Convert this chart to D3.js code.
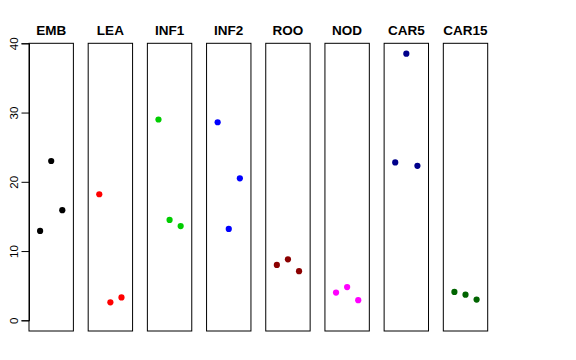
<!DOCTYPE html>
<html><head><meta charset="utf-8">
<script src="https://cdn.jsdelivr.net/npm/d3@7"></script>
<style>body{margin:0;background:#fff}svg{display:block}</style>
</head><body>
<svg id="c" width="576" height="360"></svg>
<script>
const categories = ["EMB","LEA","INF1","INF2","ROO","NOD","CAR5","CAR15"];
const colors = ["#000000","#FF0000","#00CD00","#0000FF","#8B0000","#FF00FF","#00008B","#006400"];
const rep1 = [12.9, 18.2, 29.0, 28.6, 8.0, 4.0, 22.8, 4.1];
const rep2 = [23.0, 2.6, 14.5, 13.2, 8.8, 4.8, 38.5, 3.7];
const rep3 = [15.9, 3.3, 13.6, 20.5, 7.1, 2.9, 22.3, 3.0];
const yTicks = [0, 10, 20, 30, 40];

const svg = d3.select("#c");
const y = d3.scaleLinear().domain([0, 40]).range([320.3, 43.3]);
const panelX = d3.scaleBand().domain(categories).range([29, 487.7]).paddingInner(0.25).paddingOuter(0);
const pw = panelX.bandwidth();
const jit = d3.scalePoint().domain([0,1,2]).range([0.25, 0.75]);
const yBottom = 331;
const yTop = 43.3;

categories.forEach((c, i) => {
  const g = svg.append("g").attr("transform", `translate(${panelX(c)},0)`);
  g.append("rect").attr("x", 0).attr("y", yTop).attr("width", pw).attr("height", yBottom - yTop)
    .attr("fill", "none").attr("stroke", "#000").attr("stroke-width", 1);
  g.append("text").attr("x", pw / 2).attr("y", 34.5).attr("text-anchor", "middle")
    .attr("font-family", "Liberation Sans, Arial, sans-serif").attr("font-weight", "bold")
    .attr("font-size", "13.5px").text(c);
  const vals = [rep1[i], rep2[i], rep3[i]];
  g.selectAll("circle").data(vals).join("circle")
    .attr("cx", (d, k) => jit(k) * pw).attr("cy", d => y(d)).attr("r", 3.1)
    .attr("fill", colors[i]);
});

const ax = svg.append("g").attr("transform", "translate(29,0)")
  .call(d3.axisLeft(y).tickValues(yTicks).tickSize(7.5).tickPadding(0).tickFormat(d3.format("d")));
ax.select(".domain").attr("stroke", "#000");
ax.selectAll(".tick line").attr("stroke", "#000");
ax.selectAll(".tick text").remove();
ax.selectAll(".tick").append("text")
  .attr("transform", "translate(-15,0) rotate(-90)")
  .attr("text-anchor", "middle").attr("dy", "0.35em")
  .attr("fill", "#000")
  .attr("font-family", "Liberation Sans, Arial, sans-serif").attr("font-size", "11.5px")
  .text(d => d);
</script>
</body></html>
